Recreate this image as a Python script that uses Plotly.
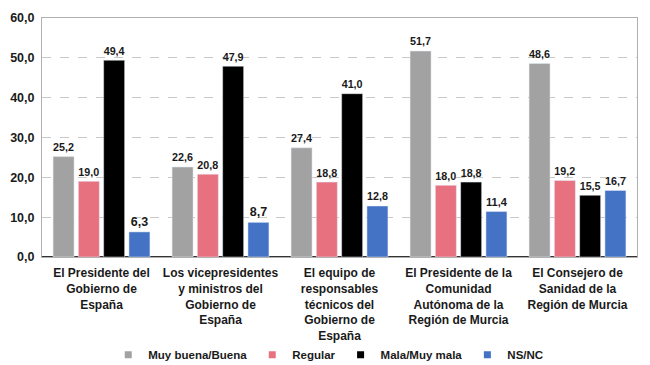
import plotly.graph_objects as go

categories = [
    "El Presidente del<br>Gobierno de<br>España",
    "Los vicepresidentes<br>y ministros del<br>Gobierno de<br>España",
    "El equipo de<br>responsables<br>técnicos del<br>Gobierno de<br>España",
    "El Presidente de la<br>Comunidad<br>Autónoma de la<br>Región de Murcia",
    "El Consejero de<br>Sanidad de la<br>Región de Murcia",
]
series_names = ["Muy buena/Buena", "Regular", "Mala/Muy mala", "NS/NC"]
muy_buena = [25.2, 22.6, 27.4, 51.7, 48.6]
regular = [19.0, 20.8, 18.8, 18.0, 19.2]
mala = [49.4, 47.9, 41.0, 18.8, 15.5]
nsnc = [6.3, 8.7, 12.8, 11.4, 16.7]
colors = ["#A2A2A2", "#E8717F", "#000000", "#4472C4"]
y_ticks = [0, 10, 20, 30, 40, 50, 60]

fig = go.Figure()
x_idx = list(range(len(categories)))
for name, vals, col in zip(series_names, [muy_buena, regular, mala, nsnc], colors):
    fig.add_trace(go.Bar(
        x=x_idx, y=vals, name=name, marker_color=col, showlegend=False,
        legendgroup=name,
        text=[f"{v:.1f}".replace(".", ",") for v in vals],
        textposition="outside", cliponaxis=False,
        textfont=dict(family="Liberation Sans", size=12.5, color="#1a1a1a", weight="bold"),
    ))
    fig.add_trace(go.Scatter(
        x=[None], y=[None], mode="markers", name=name, legendgroup=name,
        marker=dict(symbol="square", size=7, color=col),
    ))

fig.update_layout(
    width=650, height=365,
    margin=dict(l=42, r=13, t=18, b=108),
    plot_bgcolor="white", paper_bgcolor="white",
    barmode="group", bargap=0.15, bargroupgap=0.17,
    font=dict(family="Liberation Sans", size=12, color="#1a1a1a", weight="bold"),
    legend=dict(orientation="h", x=0.505, xanchor="center", xref="container",
                y=0.028, yanchor="middle", yref="container",
                bgcolor="rgba(0,0,0,0)",
                font=dict(size=11.5, weight="bold"), itemwidth=30,
                traceorder="normal", tracegroupgap=0),
    xaxis=dict(tickvals=x_idx, ticktext=categories, range=[-0.5, 4.5],
               showline=True, linecolor="#b0b0b0", mirror=True,
               ticks="outside", ticklen=5, tickcolor="rgba(0,0,0,0)",
               automargin=False,
               tickfont=dict(size=12, weight="bold")),
    yaxis=dict(range=[0, 60], tickvals=y_ticks,
               ticktext=[f"{v:.1f}".replace(".", ",") for v in y_ticks],
               showgrid=True, gridcolor="#c8c8c8", griddash="dash",
               showline=True, linecolor="#b0b0b0", mirror=True,
               zeroline=True, zerolinecolor="#333333", zerolinewidth=1.5,
               automargin=False,
               tickfont=dict(size=12.5, weight="bold"), ticks="outside", ticklen=4,
               tickcolor="rgba(0,0,0,0)"),
)
fig.write_html("out.html", config={"displayModeBar": False},
               post_script="document.body.style.margin='0';")
